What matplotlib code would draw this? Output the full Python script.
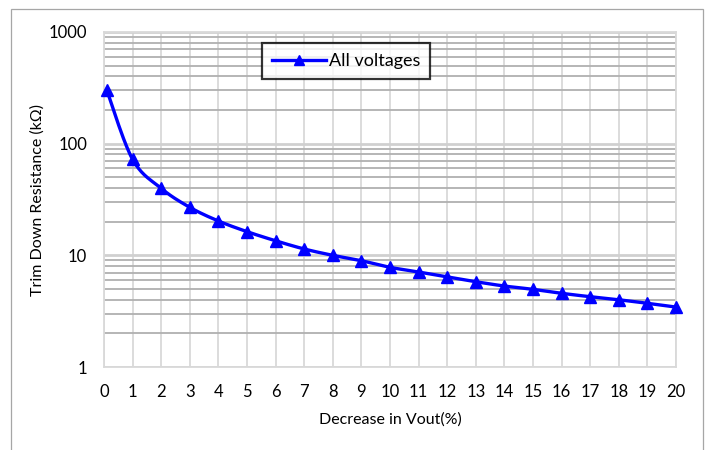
import numpy as np
import matplotlib
matplotlib.use("Agg")
import matplotlib.pyplot as plt
from matplotlib.ticker import FixedLocator, LogLocator, NullFormatter, FixedFormatter
from matplotlib.patches import Rectangle

# Data
decrease_pct = [0.1, 1, 2, 3, 4, 5, 6, 7, 8, 9, 10, 11, 12, 13, 14, 15, 16, 17, 18, 19, 20]
trim_down_kohm = [300, 72.3, 39.8, 26.9, 20.3, 16.3, 13.5, 11.4, 10.0, 8.95, 7.81, 7.09,
                  6.4, 5.8, 5.31, 4.96, 4.57, 4.26, 4.0, 3.72, 3.44]
series_name = "All voltages"
x_ticks = list(range(0, 21))
y_ticks = [1, 10, 100, 1000]
y_tick_labels = ["1", "10", "100", "1000"]

plt.rcParams['font.family'] = ['Lato', 'DejaVu Sans']

fig = plt.figure(figsize=(7.09, 4.5), dpi=100)
# outer chart border
fig.add_artist(Rectangle((11 / 709, -0.1), (703 - 11) / 709, 1.1 - 9 / 450,
                         transform=fig.transFigure, fill=False,
                         edgecolor='#a6a6a6', lw=0.9))

ax = fig.add_axes([104 / 709, (450 - 367) / 450, (676 - 104) / 709, (367 - 32) / 450])
ax.set_yscale('log')
ax.set_xlim(0, 20)
ax.set_ylim(1, 1000)

ax.xaxis.set_major_locator(FixedLocator(x_ticks))
ax.yaxis.set_major_locator(FixedLocator(y_ticks))
ax.yaxis.set_major_formatter(FixedFormatter(y_tick_labels))
ax.yaxis.set_minor_locator(LogLocator(base=10, subs=np.arange(2, 10)))
ax.yaxis.set_minor_formatter(NullFormatter())

ax.grid(True, which='major', axis='x', color='#d9d9d9', lw=1.3)
ax.grid(True, which='major', axis='y', color='#d0d0d0', lw=2.0)
ax.grid(True, which='minor', axis='y', color='#b0b0b0', lw=1.3)
ax.set_axisbelow(True)
for s in ax.spines.values():
    s.set_color('#d9d9d9')
    s.set_linewidth(1.3)
ax.tick_params(which='both', length=0, labelsize=12, colors='black')
ax.tick_params(axis='x', pad=12)
ax.tick_params(axis='y', pad=12)

# smoothed curve (Catmull-Rom in x / log10(y) space, like a smoothed spreadsheet line)
xs = np.array(decrease_pct, dtype=float)
ly = np.log10(np.array(trim_down_kohm, dtype=float))
P = np.column_stack([xs, ly])
curve = []
n = len(P)
for i in range(n - 1):
    p0 = P[i - 1] if i > 0 else P[i]
    p1, p2 = P[i], P[i + 1]
    p3 = P[i + 2] if i + 2 < n else P[i + 1]
    c1 = p1 + (p2 - p0) / 6
    c2 = p2 - (p3 - p1) / 6
    t = np.linspace(0, 1, 20)[:, None]
    seg = (1 - t) ** 3 * p1 + 3 * (1 - t) ** 2 * t * c1 + 3 * (1 - t) * t ** 2 * c2 + t ** 3 * p2
    curve.append(seg if i == 0 else seg[1:])
curve = np.vstack(curve)
ax.plot(curve[:, 0], 10 ** curve[:, 1], color='#0000ff', lw=2.4, zorder=3, clip_on=False)
ax.plot(decrease_pct, trim_down_kohm, linestyle='none', marker='^', color='#0000ff',
        markersize=8, zorder=4, clip_on=False)

# legend
handle, = ax.plot([], [], color='#0000ff', lw=2.4, marker='^', markersize=7)
leg = ax.legend([handle], [series_name], loc='upper left',
                bbox_to_anchor=((262 - 104) / 572, 1 - (43 - 32) / 335),
                frameon=True, fancybox=False, fontsize=13, handlelength=3.0,
                handletextpad=0.15, borderpad=0.55, borderaxespad=0)
leg.get_frame().set_edgecolor('black')
leg.get_frame().set_linewidth(1.6)

ax.set_xlabel("Decrease in Vout(%)", fontsize=11.5, labelpad=9)
ax.set_ylabel("Trim Down Resistance (kΩ)", fontsize=11.5, labelpad=3)

fig.savefig("out.png", dpi=100)
